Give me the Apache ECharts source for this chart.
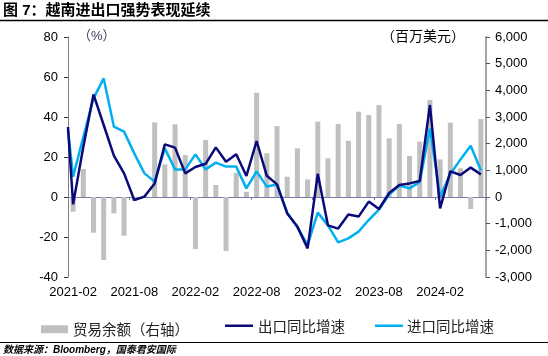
<!DOCTYPE html>
<html><head><meta charset="utf-8">
<script src="https://cdn.jsdelivr.net/npm/echarts@6/dist/echarts.min.js"></script>
<style>html,body{margin:0;padding:0;background:#fff}#c{width:548px;height:356px}</style>
</head><body><div id="c"></div>
<script>
const months = ['2021-02','2021-03','2021-04','2021-05','2021-06','2021-07','2021-08','2021-09','2021-10','2021-11','2021-12',
'2022-01','2022-02','2022-03','2022-04','2022-05','2022-06','2022-07','2022-08','2022-09','2022-10','2022-11','2022-12',
'2023-01','2023-02','2023-03','2023-04','2023-05','2023-06','2023-07','2023-08','2023-09','2023-10','2023-11','2023-12',
'2024-01','2024-02','2024-03','2024-04','2024-05','2024-06'];
// Trade balance, USD mn (right axis)
const tradeBalance = [-550,1050,-1340,-2360,-610,-1450,-150,50,2800,1225,2725,
1575,-1950,2140,450,-2025,910,190,3910,1640,2660,760,1825,
660,2825,1450,2740,2110,3200,3075,3450,2200,2740,1540,2075,
3640,1410,2790,1075,-450,2925];
// Export YoY, %
const exportYoY = [-3.7,25,51.3,36,20.7,11.8,-1.5,0.2,6.8,26.3,24.7,
11.8,15,16.6,24.8,17.6,21.4,10.5,28,10.6,6.3,-8.2,-14.8,
-25.7,11.6,-14.2,-15.8,-8.8,-9.8,-2.3,-6,2,6,6.8,8,
46,-5.7,12.8,11,14.7,11.3];
// Import YoY, %
const importYoY = [10.2,30,49.3,59.3,35.2,32.7,21.8,11.8,7.7,24.3,13.8,
13.8,21.3,13.8,17.2,15.2,15.2,4.3,12.8,5.2,6.2,-7.8,-15.2,
-24,-7.8,-14.2,-22.7,-20.7,-17.3,-11.5,-6.3,1.2,5.7,4.3,7.5,
34.3,0.2,11.5,18.8,25.6,13.3];
// value where each line enters at the left edge of the plot (coming from 2021-01)
const exportYoYLeftEdge = 35;
const importYoYLeftEdge = 33.5;
const leftAxis = {min:-40, max:80, interval:20};
const rightAxis = {min:-3000, max:6000, interval:1000};
const seriesNames = ['贸易余额（右轴）','出口同比增速','进口同比增速'];
const colors = {bar:'#c0c0c0', exp:'#0a0a78', imp:'#00b0f0'};

const G = {left:68, top:37, width:418, height:240};
const toPts = (edge, arr) => [[0, edge]].concat(arr.map((v,i)=>[i+0.5, v]));
const numFont = '"Liberation Sans", Arial, sans-serif';
const cjkFont = '"Noto Sans CJK SC", sans-serif';
const legText = {fontSize:14.5,color:'#222',fontFamily:cjkFont};
const legFont = '14.5px "Noto Sans CJK SC", sans-serif';

const chart = echarts.init(document.getElementById('c'), null, {renderer:'canvas'});
chart.setOption({
  animation:false,
  backgroundColor:'#fff',
  grid:[Object.assign({},G),Object.assign({},G),Object.assign({},G)],
  xAxis:[
    {type:'category', gridIndex:0, data:months, boundaryGap:true,
     axisLine:{show:true,onZero:true,lineStyle:{color:'#7a7aa8',width:1}},
     axisTick:{show:true,interval:5,length:3,lineStyle:{color:'#7a7aa8'}},
     axisLabel:{show:false}, splitLine:{show:false}},
    {type:'category', gridIndex:1, data:months, boundaryGap:true, position:'bottom',
     axisLine:{show:false,onZero:false}, axisTick:{show:false},
     axisLabel:{show:true,interval:5,margin:9,color:'#000',fontSize:13,fontFamily:numFont},
     splitLine:{show:false}},
    {type:'value', gridIndex:2, min:0, max:months.length, show:false}
  ],
  yAxis:[
    {type:'value', gridIndex:0, position:'left', min:leftAxis.min, max:leftAxis.max, interval:leftAxis.interval,
     axisLine:{show:true,lineStyle:{color:'#808080',width:1}},
     axisTick:{show:true,length:4,lineStyle:{color:'#333'}},
     axisLabel:{color:'#000',fontSize:13,fontFamily:numFont,margin:10},
     splitLine:{show:false}},
    {type:'value', gridIndex:0, position:'right', min:rightAxis.min, max:rightAxis.max, interval:rightAxis.interval,
     axisLine:{show:true,lineStyle:{color:'#a6a6a6',width:2}},
     axisTick:{show:true,length:4,lineStyle:{color:'#555'}},
     axisLabel:{color:'#000',fontSize:13,fontFamily:numFont,margin:9,
       formatter:v=>v.toLocaleString('en-US')},
     splitLine:{show:false}},
    {type:'value', gridIndex:1, min:leftAxis.min, max:leftAxis.max, show:false},
    {type:'value', gridIndex:2, min:leftAxis.min, max:leftAxis.max, show:false}
  ],
  legend:[
    {data:[seriesNames[0]], icon:'rect', left:36, top:317, itemWidth:27, itemHeight:8,
     textStyle:legText}
  ],
  series:[
    {name:seriesNames[0], type:'bar', xAxisIndex:0, yAxisIndex:1, data:tradeBalance,
     barWidth:5, itemStyle:{color:colors.bar}},
    {name:seriesNames[1], type:'line', xAxisIndex:2, yAxisIndex:3, data:toPts(exportYoYLeftEdge, exportYoY),
     symbol:'none', lineStyle:{color:colors.exp,width:2.5}, itemStyle:{color:colors.exp}, z:4},
    {name:seriesNames[2], type:'line', xAxisIndex:2, yAxisIndex:3, data:toPts(importYoYLeftEdge, importYoY),
     symbol:'none', lineStyle:{color:colors.imp,width:2.5}, itemStyle:{color:colors.imp}, z:3}
  ],
  graphic:[
    {type:'text', left:3, top:3, style:{text:'图 7：越南进出口强势表现延续', fill:'#000',
      font:'bold 15px "Liberation Sans", "Noto Sans CJK SC", sans-serif'}},
    {type:'line', shape:{x1:0,y1:20.5,x2:548,y2:20.5}, style:{stroke:'#000',lineWidth:1.5}},
    {type:'text', left:78, top:30, style:{text:'（%）', fill:'#3a3a5a',
      font:'13px "Liberation Sans", "Noto Sans CJK SC", sans-serif'}},
    {type:'text', left:381, top:30, style:{text:'（百万美元）', fill:'#000',
      font:'14px "Liberation Sans", "Noto Sans CJK SC", sans-serif'}},
    // line-series legend entries
    {type:'rect', shape:{x:225,y:324.5,width:28,height:2.5}, style:{fill:colors.exp}},
    {type:'text', x:258, y:326, style:{text:seriesNames[1], fill:'#222', font:legFont, verticalAlign:'middle'}},
    {type:'rect', shape:{x:375,y:324.5,width:28,height:2.5}, style:{fill:colors.imp}},
    {type:'text', x:407, y:326, style:{text:seriesNames[2], fill:'#222', font:legFont, verticalAlign:'middle'}},
    {type:'line', shape:{x1:0,y1:342.5,x2:548,y2:342.5}, style:{stroke:'#000',lineWidth:1.2}},
    {type:'text', left:3, top:345, style:{text:'数据来源：Bloomberg，国泰君安国际', fill:'#000',
      font:'italic bold 10px "Liberation Sans", "Noto Sans CJK SC", sans-serif'}}
  ]
});
</script></body></html>
